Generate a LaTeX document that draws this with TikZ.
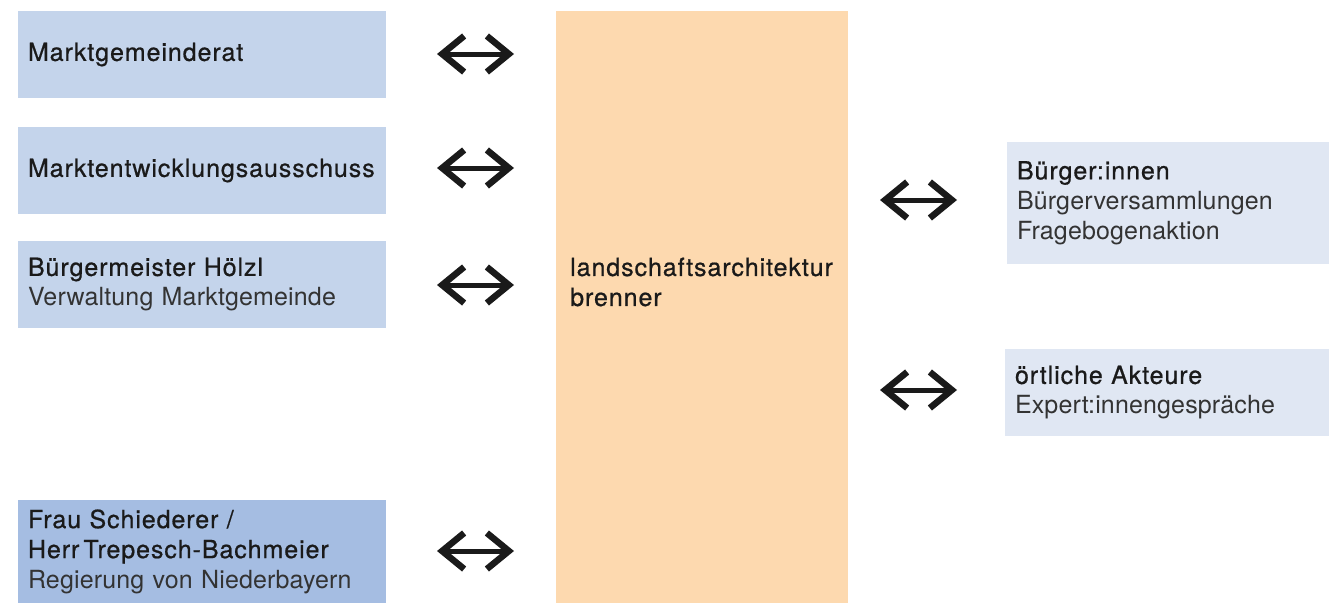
\documentclass[tikz,border=0pt]{standalone}
\usepackage{fontspec}
\setmainfont{TeX Gyre Heros}[LetterSpace=0.6]
\newfontfamily\medfont{TeX Gyre Heros}[LetterSpace=3.7,FakeBold=0.7]
\usetikzlibrary{arrows.meta}
\definecolor{lblue}{HTML}{C4D4EB}
\definecolor{dblue}{HTML}{A5BDE2}
\definecolor{peach}{HTML}{FDD9AF}
\definecolor{pblue}{HTML}{E0E7F3}
\definecolor{tdark}{HTML}{1A1A1A}
\definecolor{tlight}{HTML}{333333}
\newcommand{\sub}[1]{{\normalfont\color{tlight}#1}}
\tikzset{
  box/.style={rectangle, inner xsep=10pt, inner ysep=0pt, align=left,
    font=\fontsize{25}{30}\medfont, text=tdark, anchor=center},
  lbox/.style={box, fill=lblue, text width=348pt, minimum height=87pt},
  dbox/.style={box, fill=dblue, text width=348pt, minimum height=103pt},
  rbox/.style={box, fill=pblue},
  biarrow/.style={line width=5pt,
    {Straight Barb[length=22pt,width=36pt,line width=6.5pt]}-{Straight Barb[length=22pt,width=36pt,line width=6.5pt]},
    color=tdark}
}
\begin{document}
\begin{tikzpicture}[x=1pt,y=-1pt]
\useasboundingbox (0,0) rectangle (1329,603);
% left boxes
\node[lbox] (mg) at (202,54.5) {Marktgemeinderat};
\node[lbox] (ma) at (202,170.5) {Marktentwicklungsausschuss};
\node[lbox] (bm) at (202,284.5) {Bürgermeister Hölzl\\\sub{Verwaltung Marktgemeinde}};
\node[dbox] (rn) at (202,551.5) {Frau Schiederer /\\Herr\,Trepesch-Bachmeier\\\sub{Regierung von Niederbayern}};
% center
\node[rectangle, fill=peach, minimum width=292pt, minimum height=592pt, inner sep=0pt] (lab) at (702,307) {};
\node[box, inner sep=0pt, anchor=west] (labtxt) at (570,282) {landschaftsarchitektur\\brenner};
% right boxes
\node[rbox, text width=302pt, minimum height=122pt] (bi) at (1168,203) {Bürger:innen\\\sub{Bürgerversammlungen}\\\sub{Fragebogenaktion}};
\node[rbox, text width=304pt, minimum height=87pt] (oa) at (1167,392.5) {örtliche Akteure\\\sub{Expert:innengespräche}};
% arrows
\coordinate (a1l) at (437,54);  \coordinate (a1r) at (514,54);
\coordinate (a2l) at (437,168); \coordinate (a2r) at (514,168);
\coordinate (a3l) at (437,285); \coordinate (a3r) at (514,285);
\coordinate (a4l) at (437,551); \coordinate (a4r) at (514,551);
\coordinate (b1l) at (880,200); \coordinate (b1r) at (957,200);
\coordinate (b2l) at (880,390); \coordinate (b2r) at (957,390);
\foreach \p in {a1,a2,a3,a4,b1,b2} \draw[biarrow] (\p l) -- (\p r);
\end{tikzpicture}
\end{document}
